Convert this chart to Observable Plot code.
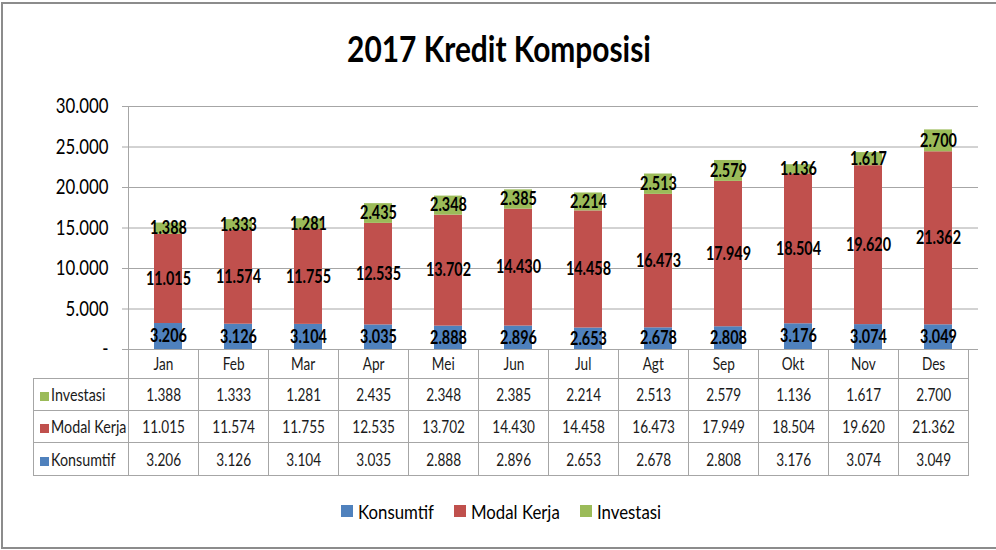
<!DOCTYPE html>
<html><head><meta charset="utf-8">
<script src="https://cdn.jsdelivr.net/npm/d3@7"></script>
<script src="https://cdn.jsdelivr.net/npm/@observablehq/plot@0.6"></script>
<style>
html,body{margin:0;padding:0;background:#fff;overflow:hidden;width:996px;height:550px;}
#wrap{position:relative;width:996px;height:550px;overflow:hidden;font-family:Lato,'Noto Sans',sans-serif;color:#000;}
#border{position:absolute;left:1px;top:2px;width:1010px;height:547px;border:2px solid #8c8c8c;box-sizing:border-box;}
#title{position:absolute;left:0;top:27px;width:998px;text-align:center;font-weight:bold;font-size:36px;line-height:43px;white-space:nowrap;}
#title .cx{transform:scaleX(0.83);}
.cx{display:inline-block;transform:scaleX(0.8);transform-origin:50% 50%;white-space:nowrap;}
.lx{display:inline-block;transform:scaleX(0.84);transform-origin:0 50%;white-space:nowrap;}
#chart{position:absolute;left:0;top:0;}
#tbl{position:absolute;left:33px;top:349px;border-collapse:collapse;table-layout:fixed;font-size:17px;}
#tbl td{border:1px solid #a6a6a6;text-align:center;padding:0;color:#1a1a1a;white-space:nowrap;overflow:hidden;}
#tbl tr.h td{border-top:none;height:29px;}
#tbl td.corner{border-left:none;border-top:none;}
#tbl td.lab{text-align:left;padding-left:6px;}
#tbl .sq{display:inline-block;width:9px;height:9px;margin-right:2px;vertical-align:0px;}
#legend{position:absolute;left:0;top:498px;width:1002px;height:26px;display:flex;justify-content:center;align-items:center;font-size:20px;}
#legend .it{display:flex;align-items:center;margin:0 10px;}
#legend .sq{display:inline-block;width:12px;height:12px;margin-right:5px;}
</style></head>
<body>
<div id="wrap">
  <div id="border"></div>
  <div id="title"></div>
  <div id="chart"></div>
  <div id="legend"></div>
</div>
<script>
const titleText = "2017 Kredit Komposisi";
const months = ["Jan","Feb","Mar","Apr","Mei","Jun","Jul","Agt","Sep","Okt","Nov","Des"];
const konsumtif = [3206,3126,3104,3035,2888,2896,2653,2678,2808,3176,3074,3049];
const modalKerja = [11015,11574,11755,12535,13702,14430,14458,16473,17949,18504,19620,21362];
const investasi = [1388,1333,1281,2435,2348,2385,2214,2513,2579,1136,1617,2700];
const seriesNames = ["Konsumtif","Modal Kerja","Investasi"];
const seriesColors = ["#4f81bd","#c0504d","#9bbb59"];
const yTicks = [0,5000,10000,15000,20000,25000,30000];
const tableOrder = ["Investasi","Modal Kerja","Konsumtif"];

const SX = 0.8; // horizontal condensing of text, to mimic the narrow face of the original
const fmt = v => v === 0 ? "-" : d3.format(",")(v).replace(/,/g, ".");
const seriesValues = {"Konsumtif": konsumtif, "Modal Kerja": modalKerja, "Investasi": investasi};
const colorOf = Object.fromEntries(seriesNames.map((s, i) => [s, seriesColors[i]]));
const data = seriesNames.flatMap(s => months.map((m, j) => ({month: m, series: s, value: seriesValues[s][j]})));

document.getElementById("title").innerHTML = `<span class="cx">${titleText}</span>`;

const chart = Plot.plot({
  width: 996, height: 360,
  marginLeft: 128, marginRight: 18, marginTop: 106, marginBottom: 11,
  style: {fontFamily: "Lato, 'Noto Sans', sans-serif", fontSize: "21px", color: "#000", background: "transparent", overflow: "visible"},
  x: {domain: months, paddingInner: 0.6, paddingOuter: 0.3, axis: null},
  y: {domain: [0, 30000], axis: null},
  color: {domain: seriesNames, range: seriesColors},
  marks: [
    Plot.gridY(yTicks, {stroke: "#a6a6a6", strokeOpacity: 1}),
    Plot.axisY(yTicks, {label: null, tickSize: 6, tickPadding: 14, tickFormat: fmt, stroke: "#a6a6a6", fill: "#000", fontSize: 21}),
    Plot.barY(data, {x: "month", y: "value", fill: "series", order: seriesNames}),
    Plot.text(data, Plot.stackY({x: "month", y: "value", z: "series", order: seriesNames, text: d => fmt(d.value), fontWeight: "bold", fontSize: 18, fill: "#000"}))
  ]
});
document.getElementById("chart").appendChild(chart);

// condense SVG texts horizontally around their own anchor (y is unaffected by a horizontal scale)
d3.select(chart).selectAll("text").each(function() {
  const t = this.getAttribute("transform") || "";
  const xa = parseFloat(this.getAttribute("x"));
  const x = Number.isFinite(xa) ? xa : 0;
  this.setAttribute("transform", `${t} translate(${x},0) scale(${SX},1) translate(${-x},0)`.trim());
});

// y-axis line at left edge of the frame
const xs = chart.scale("x"), ys = chart.scale("y");
const xLeft = xs.range[0];
d3.select(chart).append("line")
  .attr("x1", xLeft + 0.5).attr("x2", xLeft + 0.5)
  .attr("y1", ys.apply(30000)).attr("y2", ys.apply(0))
  .attr("stroke", "#a6a6a6");

// data table aligned with the x band scale
const step = xs.step;
const tbl = document.createElement("table");
tbl.id = "tbl";
const labW = xLeft - 33;
let html = `<colgroup><col style="width:${labW}px">${months.map(() => `<col style="width:${step}px">`).join("")}</colgroup>`;
html += `<tr class="h"><td class="corner"></td>${months.map(m => `<td><span class="cx">${m}</span></td>`).join("")}</tr>`;
const rowH = {"Investasi": 32, "Modal Kerja": 32, "Konsumtif": 33};
for (const s of tableOrder) {
  html += `<tr style="height:${rowH[s]}px"><td class="lab"><span class="sq" style="background:${colorOf[s]}"></span><span class="lx">${s}</span></td>${seriesValues[s].map(v => `<td><span class="cx">${fmt(v)}</span></td>`).join("")}</tr>`;
}
tbl.innerHTML = html;
tbl.style.width = (labW + step * months.length) + "px";
document.getElementById("wrap").appendChild(tbl);

// legend
const legend = document.getElementById("legend");
legend.innerHTML = seriesNames.map(s =>
  `<span class="it"><span class="sq" style="background:${colorOf[s]}"></span><span class="lx">${s}</span></span>`).join("");
legend.querySelectorAll(".lx").forEach(el => {
  el.style.marginRight = (-(1 - 0.84) * el.offsetWidth) + "px";
});
</script>
</body></html>
